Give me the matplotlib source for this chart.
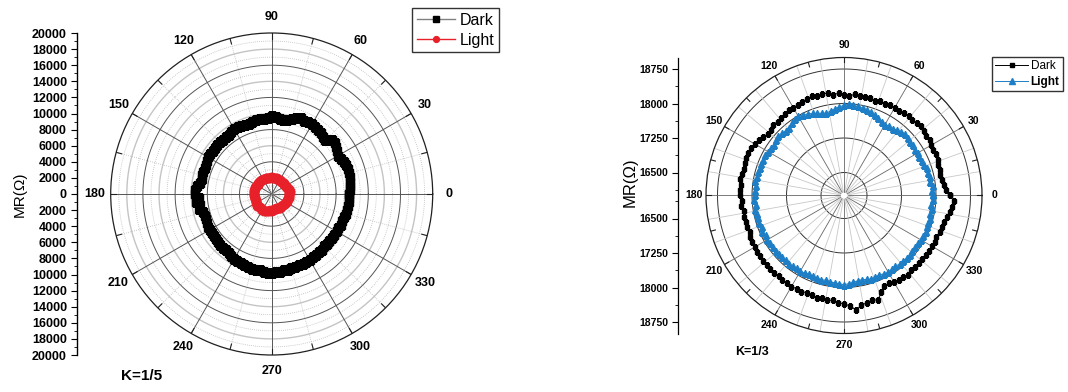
import numpy as np
import matplotlib
matplotlib.use('Agg')
import matplotlib.pyplot as plt
from matplotlib.ticker import FixedLocator

plt.rcParams['font.family'] = ['Liberation Sans', 'DejaVu Sans']

# angles of the measurement, 3 deg steps
angle = np.arange(0, 360, 3)

# K=1/5 sample, MR in ohm
k5_dark = [9600, 9700, 9800, 9900, 9900, 10000, 10000, 9900, 9800, 9600,
           9500, 9700, 9900, 10100, 10000, 9400, 9500, 9700, 9800, 9900,
           10000, 10000, 9900, 10100, 9900, 9600, 9400, 9300, 9400, 9600,
           9700, 9500, 9400, 9400, 9400, 9300, 9200, 9200, 9300, 9300,
           9300, 9200, 9100, 9100, 9100, 9100, 9100, 9100, 9000, 9100,
           9100, 9000, 9000, 8900, 9000, 9000, 8900, 9000, 9300, 9600,
           9500, 9100, 9400, 9000, 9200, 8800, 8700, 8700, 8800, 8900,
           8900, 8800, 8900, 8900, 8900, 9000, 9000, 9000, 9100, 9200,
           9300, 9400, 9400, 9500, 9500, 9600, 9600, 9600, 9700, 9800,
           9800, 9700, 9700, 9600, 9600, 9500, 9500, 9500, 9500, 9500,
           9500, 9400, 9400, 9300, 9300, 9200, 9200, 9200, 9200, 9300,
           9300, 9300, 9400, 9400, 9400, 9500, 9500, 9600, 9600, 9600]
k5_light = [2150, 2200, 2250, 2300, 2250, 2200, 2150, 2100, 2050, 2000,
            2050, 2000, 1950, 2000, 2050, 2000, 1950, 1900, 1950, 2000,
            2050, 2000, 1950, 2000, 2050, 2100, 2050, 2000, 1950, 2000,
            2050, 2100, 2050, 2000, 2050, 2100, 2150, 2100, 2050, 2100,
            2150, 2100, 2150, 2200, 2150, 2100, 2150, 2200, 2150, 2100,
            2150, 2200, 2250, 2200, 2150, 2200, 2250, 2200, 2150, 2200,
            2250, 2200, 2150, 2100, 2150, 2200, 2150, 2100, 2150, 2200,
            2250, 2200, 2250, 2300, 2250, 2200, 2150, 2200, 2250, 2300,
            2350, 2300, 2250, 2300, 2250, 2200, 2150, 2100, 2050, 2100,
            2050, 2000, 1950, 1900, 1950, 1900, 1850, 1900, 1950, 1900,
            1950, 2000, 1950, 1900, 1950, 2000, 1950, 2000, 2050, 2000,
            2050, 2100, 2050, 2100, 2150, 2100, 2150, 2200, 2150, 2100]

# K=1/3 sample, MR in ohm
k3_dark = [18300, 18220, 18180, 18150, 18140, 18160, 18150, 18180, 18200, 18170,
           18190, 18230, 18210, 18240, 18250, 18240, 18200, 18230, 18210, 18190,
           18200, 18220, 18180, 18200, 18170, 18190, 18200, 18180, 18210, 18170,
           18190, 18230, 18200, 18250, 18260, 18240, 18270, 18250, 18230, 18220,
           18200, 18210, 18190, 18180, 18160, 18180, 18140, 18130, 18170, 18210,
           18230, 18260, 18290, 18280, 18270, 18250, 18260, 18280, 18250, 18270,
           18260, 18230, 18250, 18210, 18230, 18200, 18220, 18200, 18230, 18250,
           18240, 18260, 18250, 18270, 18260, 18270, 18280, 18260, 18280, 18270,
           18290, 18270, 18290, 18260, 18280, 18300, 18270, 18310, 18290, 18330,
           18360, 18400, 18500, 18420, 18380, 18350, 18390, 18250, 18160, 18140,
           18180, 18200, 18190, 18210, 18180, 18190, 18200, 18190, 18210, 18200,
           18200, 18220, 18200, 18230, 18250, 18260, 18300, 18340, 18370, 18400]
k3_light = [17930, 17910, 17940, 17900, 17920, 17890, 17900, 17870, 17860, 17840,
            17850, 17830, 17860, 17850, 17880, 17890, 17860, 17830, 17800, 17790,
            17780, 17800, 17840, 17870, 17900, 17920, 17940, 17960, 17970, 17990,
            17960, 17930, 17890, 17860, 17830, 17850, 17880, 17910, 17940, 17970,
            17990, 17970, 17940, 17900, 17890, 17910, 17920, 17900, 17880, 17900,
            17910, 17930, 17920, 17940, 17920, 17940, 17930, 17950, 17920, 17940,
            17930, 17950, 17930, 17960, 17940, 17930, 17950, 17920, 17940, 17910,
            17930, 17910, 17920, 17900, 17910, 17900, 17890, 17910, 17900, 17880,
            17900, 17890, 17870, 17880, 17890, 17900, 17880, 17900, 17910, 17920,
            17940, 17920, 17900, 17880, 17870, 17890, 17910, 17900, 17890, 17910,
            17930, 17910, 17900, 17920, 17910, 17930, 17920, 17900, 17920, 17910,
            17930, 17920, 17940, 17930, 17920, 17940, 17920, 17930, 17910, 17930]

angle_ticks = list(range(0, 360, 30))
blue = '#1f7fc6'
red = '#e8202a'

W, H = 1068, 392
fig = plt.figure(figsize=(W / 100, H / 100), dpi=100)


def box(cx, cy, r):
    return [(cx - r) / W, (H - cy - r) / H, 2 * r / W, 2 * r / H]


def polar_frame(ax, r0, r1, r_lab, fs):
    ax.set_ylim(r0, r1)
    ax.grid(False)
    ax.set_yticks([])
    ax.set_xticks([])
    ax.spines['polar'].set_color('#202020')
    ax.spines['polar'].set_linewidth(0.9)
    for a in angle_ticks:
        ax.text(np.radians(a), r_lab, str(a), fontsize=fs, fontweight='bold',
                ha='center', va='center', clip_on=False)
    # short minor ticks on the rim
    for a in range(0, 360, 15):
        t = np.radians(a)
        ax.plot([t, t], [r1 - (r1 - r0) * 0.035, r1], color='#202020', lw=0.8, zorder=1)


def circle(ax, r, **kw):
    t = np.linspace(0, 2 * np.pi, 361)
    ax.plot(t, np.full_like(t, r), zorder=0, **kw)


def spoke(ax, a, r0, r1, **kw):
    t = np.radians(a)
    ax.plot([t, t], [r0, r1], zorder=0, **kw)


th = np.radians(angle)

# ---- left: K=1/5 ----
ax1 = fig.add_axes(box(271.7, 194, 161), projection='polar')
polar_frame(ax1, 0, 20000, 20000 * 177 / 161, 9)
for r in range(1000, 20000, 1000):
    if r % 4000 == 0:
        circle(ax1, r, color='#555555', lw=0.7)
    elif r % 2000 == 0:
        circle(ax1, r, color='#c4c4c4', lw=1.0)
    else:
        circle(ax1, r, color='#bbbbbb', lw=0.6, ls=(0, (1, 1.5)))
for a in range(0, 360, 15):
    if a % 30 == 0:
        spoke(ax1, a, 0, 20000, color='#555555', lw=0.7)
    else:
        spoke(ax1, a, 0, 20000, color='#bbbbbb', lw=0.6, ls=(0, (1, 1.5)))

ax1.plot(np.append(th, th[0]), k5_dark + k5_dark[:1], color='#808080', lw=1,
         marker='s', ms=6, mfc='black', mec='black', label='Dark', zorder=3)
ax1.plot(np.append(th, th[0]), k5_light + k5_light[:1], color=red, lw=1,
         marker='o', ms=6, mfc=red, mec=red, label='Light', zorder=4)

leg1 = ax1.legend(loc='upper left', bbox_to_anchor=(412 / W, 1 - 8 / H),
                  bbox_transform=fig.transFigure, frameon=True, fancybox=False,
                  edgecolor='black', prop={'size': 11.5}, markerscale=0.7,
                  handlelength=2.4, handletextpad=0.3, borderpad=0.3,
                  labelspacing=0.3, borderaxespad=0)
leg1.get_frame().set_linewidth(1.0)

# radial scale drawn as a plain axis on the left
ay1 = fig.add_axes([76.7 / W, (H - 355) / H, 0.0005, 322 / H])
ay1.set_ylim(-20000, 20000)
ay1.set_xticks([])
for s in ['top', 'right', 'bottom']:
    ay1.spines[s].set_visible(False)
ay1.spines['left'].set_linewidth(1.0)
ay1.yaxis.set_major_locator(FixedLocator(range(-20000, 20001, 2000)))
ay1.yaxis.set_minor_locator(FixedLocator(range(-19000, 20000, 2000)))
ay1.set_yticklabels([str(abs(v)) for v in range(-20000, 20001, 2000)],
                    fontsize=9, fontweight='bold')
ay1.tick_params(axis='y', which='major', length=4, width=0.8, pad=3)
ay1.tick_params(axis='y', which='minor', length=2, width=0.6)
fig.text(20 / W, 1 - 194 / H, 'MR(\u03a9)', rotation=90, fontsize=11,
         ha='center', va='center')
fig.text(142 / W, 1 - 376 / H, 'K=1/5', fontsize=11, fontweight='bold',
         ha='center', va='center')

# ---- right: K=1/3 ----
ax2 = fig.add_axes(box(844, 195.5, 138), projection='polar')
polar_frame(ax2, 16000, 19000, 16000 + 3000 * 150 / 138, 7.5)
for r in [16500, 17250, 18000, 18750]:
    circle(ax2, r, color='#333333', lw=0.7)
for a in range(0, 360, 10):
    if a % 30 == 0:
        spoke(ax2, a, 16080, 19000, color='#666666', lw=0.6)
    else:
        spoke(ax2, a, 16080, 19000, color='#c8c8c8', lw=0.6)

ax2.plot(np.append(th, th[0]), k3_dark + k3_dark[:1], color='black', lw=0.7,
         marker='s', ms=3.4, mfc='black', mec='black', label='Dark', zorder=3)
ax2.plot(np.append(th, th[0]), k3_light + k3_light[:1], color=blue, lw=0.7,
         marker='^', ms=4.2, mfc=blue, mec=blue, label='Light', zorder=4)

leg2 = ax2.legend(loc='upper left', bbox_to_anchor=(991.7 / W, 1 - 56.7 / H),
                  bbox_transform=fig.transFigure, frameon=True, fancybox=False,
                  edgecolor='black', prop={'size': 8.5},
                  handlelength=2.8, handletextpad=0.2, borderpad=0.3,
                  labelspacing=0.3, borderaxespad=0)
leg2.get_frame().set_linewidth(1.0)
leg2.get_texts()[1].set_fontweight('bold')

ay2 = fig.add_axes([677.7 / W, (H - 333.5) / H, 0.0005, 276 / H])
ay2.set_ylim(-3000, 3000)
ay2.set_xticks([])
for s in ['top', 'right', 'bottom']:
    ay2.spines[s].set_visible(False)
ay2.spines['left'].set_linewidth(0.9)
major2 = [-2750, -2000, -1250, -500, 500, 1250, 2000, 2750]
ay2.yaxis.set_major_locator(FixedLocator(major2))
ay2.yaxis.set_minor_locator(FixedLocator([-2375, -1625, -875, -125, 125, 875, 1625, 2375]))
ay2.set_yticklabels([str(16000 + abs(v)) for v in major2], fontsize=7.5, fontweight='bold')
ay2.tick_params(axis='y', which='major', length=4, width=0.8, pad=3)
ay2.tick_params(axis='y', which='minor', length=2, width=0.6)
fig.text(630 / W, 1 - 182 / H, 'MR(\u03a9)', rotation=90, fontsize=12,
         ha='center', va='center')
fig.text(752 / W, 1 - 352 / H, 'K=1/3', fontsize=9, fontweight='bold',
         ha='center', va='center')

fig.savefig('out.png', dpi=100)
